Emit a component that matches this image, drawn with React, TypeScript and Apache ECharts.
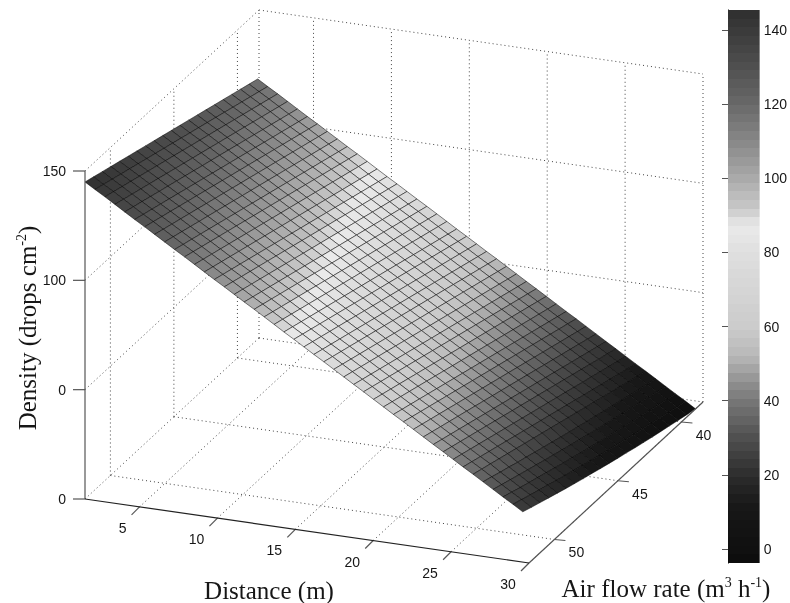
import React, { useEffect, useRef } from "react";
import * as echarts from "echarts";

// Mesh coordinates
const distances = [1.50,2.14,2.78,3.42,4.05,4.69,5.33,5.97,6.61,7.25,7.89,8.53,9.16,9.80,10.44,11.08,11.72,12.36,13.00,13.64,14.27,14.91,15.55,16.19,16.83,17.47,18.11,18.75,19.38,20.02,20.66,21.30,21.94,22.58,23.22,23.86,24.49,25.13,25.77,26.41,27.05,27.69,28.33,28.97,29.60];
const airFlows = [38.40,39.08,39.76,40.44,41.12,41.80,42.48,43.16,43.84,44.52,45.20,45.88,46.56,47.24,47.92,48.60,49.28,49.96,50.64,51.32,52.00];

// density[airIndex][distanceIndex], drops cm-2
const density = [
[119.0,116.2,113.5,110.7,107.9,105.1,102.4,99.6,96.8,94.0,91.3,88.5,85.7,82.9,80.2,77.4,74.6,71.9,69.1,66.3,63.5,60.8,58.0,55.2,52.5,49.7,46.9,44.1,41.4,38.6,35.8,33.0,30.3,27.5,24.7,21.9,19.2,16.4,13.6,10.9,8.1,5.3,2.5,-0.2,-3.0],
[120.3,117.5,114.8,112.0,109.2,106.4,103.7,100.9,98.1,95.3,92.6,89.8,87.0,84.2,81.5,78.7,75.9,73.2,70.4,67.6,64.8,62.1,59.3,56.5,53.8,51.0,48.2,45.4,42.7,39.9,37.1,34.3,31.6,28.8,26.0,23.2,20.5,17.7,14.9,12.2,9.3,6.4,3.6,0.9,-2.0],
[121.6,118.8,116.1,113.3,110.5,107.7,105.0,102.2,99.4,96.6,93.9,91.1,88.3,85.5,82.8,80.0,77.2,74.5,71.7,68.9,66.1,63.4,60.6,57.8,55.1,52.3,49.5,46.7,44.0,41.2,38.4,35.6,32.9,30.1,27.3,24.5,21.8,19.0,16.2,13.5,10.4,7.6,4.8,2.0,-0.9],
[122.9,120.1,117.4,114.6,111.8,109.0,106.3,103.5,100.7,97.9,95.2,92.4,89.6,86.8,84.1,81.3,78.5,75.8,73.0,70.2,67.4,64.7,61.9,59.1,56.4,53.6,50.8,48.0,45.3,42.5,39.7,36.9,34.2,31.4,28.6,25.8,23.1,20.3,17.5,14.8,11.6,8.8,5.9,3.1,0.2],
[124.2,121.4,118.7,115.9,113.1,110.3,107.6,104.8,102.0,99.2,96.5,93.7,90.9,88.1,85.4,82.6,79.8,77.1,74.3,71.5,68.7,66.0,63.2,60.4,57.7,54.9,52.1,49.3,46.6,43.8,41.0,38.2,35.5,32.7,29.9,27.1,24.4,21.6,18.8,16.1,12.9,10.0,7.1,4.3,1.3],
[125.5,122.7,120.0,117.2,114.4,111.6,108.9,106.1,103.3,100.5,97.8,95.0,92.2,89.4,86.7,83.9,81.1,78.4,75.6,72.8,70.0,67.3,64.5,61.7,59.0,56.2,53.4,50.6,47.9,45.1,42.3,39.5,36.8,34.0,31.2,28.4,25.7,22.9,20.1,17.4,14.1,11.2,8.3,5.4,2.4],
[126.8,124.0,121.3,118.5,115.7,112.9,110.2,107.4,104.6,101.8,99.1,96.3,93.5,90.7,88.0,85.2,82.4,79.7,76.9,74.1,71.3,68.6,65.8,63.0,60.3,57.5,54.7,51.9,49.2,46.4,43.6,40.8,38.1,35.3,32.5,29.7,27.0,24.2,21.4,18.7,15.3,12.4,9.5,6.6,3.6],
[128.1,125.3,122.6,119.8,117.0,114.2,111.5,108.7,105.9,103.1,100.4,97.6,94.8,92.0,89.3,86.5,83.7,81.0,78.2,75.4,72.6,69.9,67.1,64.3,61.6,58.8,56.0,53.2,50.5,47.7,44.9,42.1,39.4,36.6,33.8,31.0,28.3,25.5,22.7,20.0,16.6,13.6,10.7,7.8,4.8],
[129.4,126.6,123.9,121.1,118.3,115.5,112.8,110.0,107.2,104.4,101.7,98.9,96.1,93.3,90.6,87.8,85.0,82.3,79.5,76.7,73.9,71.2,68.4,65.6,62.9,60.1,57.3,54.5,51.8,49.0,46.2,43.4,40.7,37.9,35.1,32.3,29.6,26.8,24.0,21.3,17.8,14.9,12.0,9.1,6.1],
[130.7,127.9,125.2,122.4,119.6,116.8,114.1,111.3,108.5,105.7,103.0,100.2,97.4,94.6,91.9,89.1,86.3,83.6,80.8,78.0,75.2,72.5,69.7,66.9,64.2,61.4,58.6,55.8,53.1,50.3,47.5,44.7,42.0,39.2,36.4,33.6,30.9,28.1,25.3,22.6,19.1,16.2,13.2,10.3,7.3],
[132.0,129.2,126.5,123.7,120.9,118.1,115.4,112.6,109.8,107.0,104.3,101.5,98.7,95.9,93.2,90.4,87.6,84.9,82.1,79.3,76.5,73.8,71.0,68.2,65.5,62.7,59.9,57.1,54.4,51.6,48.8,46.0,43.3,40.5,37.7,34.9,32.2,29.4,26.6,23.9,20.4,17.5,14.5,11.6,8.6],
[133.3,130.5,127.8,125.0,122.2,119.4,116.7,113.9,111.1,108.3,105.6,102.8,100.0,97.2,94.5,91.7,88.9,86.2,83.4,80.6,77.8,75.1,72.3,69.5,66.8,64.0,61.2,58.4,55.7,52.9,50.1,47.3,44.6,41.8,39.0,36.2,33.5,30.7,27.9,25.2,21.7,18.8,15.8,12.9,9.9],
[134.6,131.8,129.1,126.3,123.5,120.7,118.0,115.2,112.4,109.6,106.9,104.1,101.3,98.5,95.8,93.0,90.2,87.5,84.7,81.9,79.1,76.4,73.6,70.8,68.1,65.3,62.5,59.7,57.0,54.2,51.4,48.6,45.9,43.1,40.3,37.5,34.8,32.0,29.2,26.5,23.0,20.1,17.2,14.3,11.3],
[135.9,133.1,130.4,127.6,124.8,122.0,119.3,116.5,113.7,110.9,108.2,105.4,102.6,99.8,97.1,94.3,91.5,88.8,86.0,83.2,80.4,77.7,74.9,72.1,69.4,66.6,63.8,61.0,58.3,55.5,52.7,49.9,47.2,44.4,41.6,38.8,36.1,33.3,30.5,27.8,24.4,21.5,18.5,15.6,12.6],
[137.2,134.4,131.7,128.9,126.1,123.3,120.6,117.8,115.0,112.2,109.5,106.7,103.9,101.1,98.4,95.6,92.8,90.1,87.3,84.5,81.7,79.0,76.2,73.4,70.7,67.9,65.1,62.3,59.6,56.8,54.0,51.2,48.5,45.7,42.9,40.1,37.4,34.6,31.8,29.1,25.7,22.8,19.9,17.0,14.0],
[138.5,135.7,133.0,130.2,127.4,124.6,121.9,119.1,116.3,113.5,110.8,108.0,105.2,102.4,99.7,96.9,94.1,91.4,88.6,85.8,83.0,80.3,77.5,74.7,72.0,69.2,66.4,63.6,60.9,58.1,55.3,52.5,49.8,47.0,44.2,41.4,38.7,35.9,33.1,30.4,27.1,24.2,21.3,18.4,15.4],
[139.8,137.0,134.3,131.5,128.7,125.9,123.2,120.4,117.6,114.8,112.1,109.3,106.5,103.7,101.0,98.2,95.4,92.7,89.9,87.1,84.3,81.6,78.8,76.0,73.3,70.5,67.7,64.9,62.2,59.4,56.6,53.8,51.1,48.3,45.5,42.7,40.0,37.2,34.4,31.7,28.4,25.6,22.7,19.9,16.9],
[141.1,138.3,135.6,132.8,130.0,127.2,124.5,121.7,118.9,116.1,113.4,110.6,107.8,105.0,102.3,99.5,96.7,94.0,91.2,88.4,85.6,82.9,80.1,77.3,74.6,71.8,69.0,66.2,63.5,60.7,57.9,55.1,52.4,49.6,46.8,44.0,41.3,38.5,35.7,33.0,29.9,27.0,24.1,21.3,18.4],
[142.4,139.6,136.9,134.1,131.3,128.5,125.8,123.0,120.2,117.4,114.7,111.9,109.1,106.3,103.6,100.8,98.0,95.3,92.5,89.7,86.9,84.2,81.4,78.6,75.9,73.1,70.3,67.5,64.8,62.0,59.2,56.4,53.7,50.9,48.1,45.3,42.6,39.8,37.0,34.3,31.2,28.4,25.5,22.8,19.9],
[143.7,140.9,138.2,135.4,132.6,129.8,127.1,124.3,121.5,118.7,116.0,113.2,110.4,107.6,104.9,102.1,99.3,96.6,93.8,91.0,88.2,85.5,82.7,79.9,77.2,74.4,71.6,68.8,66.1,63.3,60.5,57.7,55.0,52.2,49.4,46.6,43.9,41.1,38.3,35.6,32.7,29.8,27.0,24.3,21.4],
[145.0,142.2,139.5,136.7,133.9,131.1,128.4,125.6,122.8,120.0,117.3,114.5,111.7,108.9,106.2,103.4,100.6,97.9,95.1,92.3,89.5,86.8,84.0,81.2,78.5,75.7,72.9,70.1,67.4,64.6,61.8,59.0,56.3,53.5,50.7,47.9,45.2,42.4,39.6,36.9,34.1,31.3,28.5,25.8,23.0],
];

// Axes
const distanceRange = [1.5, 30];
const airRange = [52, 38.3];
const densityRange = [0, 150];
const distanceTicks = [5, 10, 15, 20, 25, 30];
const airTicks = [40, 45, 50];
const densityTicks = [0, 50, 100, 150];
const densityTickLabels = ["0", "0", "100", "150"];
const barTicks = [0, 20, 40, 60, 80, 100, 120, 140];
const barRange = [-3.8, 145.4];
const barLevels = 64;

// Grey level of the colour bar at a density value
const greyStops = [
  [-3.8, 12], [0, 16], [12, 24], [20, 46], [30, 80], [40, 120], [45, 144], [52, 184],
  [60, 204], [70, 213], [80, 223], [87, 234], [92, 200], [100, 170], [110, 136],
  [120, 104], [130, 80], [145.4, 46],
];

const W = 790, H = 603;
const origin = [85, 499];
const perDistance = [444 / 28.5, 64 / 28.5];
const perAir = [174 / 13.7, -161 / 13.7];
const perDensity = -328 / 150;

function project(d: number, a: number, z: number) {
  const dd = d - distanceRange[0];
  const aa = airRange[0] - a;
  return [
    origin[0] + dd * perDistance[0] + aa * perAir[0],
    origin[1] + dd * perDistance[1] + aa * perAir[1] + z * perDensity,
  ];
}

function greyAt(z: number) {
  let g = greyStops[greyStops.length - 1][1];
  for (let k = 0; k < greyStops.length - 1; k++) {
    const [z0, g0] = greyStops[k];
    const [z1, g1] = greyStops[k + 1];
    if (z <= z1) { g = g0 + ((Math.max(z, z0) - z0) / (z1 - z0)) * (g1 - g0); break; }
  }
  const v = Math.round(g);
  return `rgb(${v},${v},${v})`;
}

type Seg = { a: number[]; b: number[]; off?: number[] };

function wallSegments(): Seg[] {
  const [d0, d1] = distanceRange;
  const [a0, a1] = airRange;
  const [z0, z1] = densityRange;
  const out: Seg[] = [];
  distanceTicks.forEach((d) => {
    out.push({ a: [d, a0, z0], b: [d, a1, z0] });
    out.push({ a: [d, a1, z0], b: [d, a1, z1] });
  });
  airTicks.forEach((a) => {
    out.push({ a: [d0, a, z0], b: [d1, a, z0] });
    out.push({ a: [d0, a, z0], b: [d0, a, z1] });
  });
  out.push({ a: [d0, a1, z0], b: [d0, a1, z1] });
  densityTicks.forEach((z) => {
    out.push({ a: [d0, a1, z], b: [d1, a1, z] });
    out.push({ a: [d0, a0, z], b: [d0, a1, z] });
  });
  return out;
}

function lightAxisSegments(): Seg[] {
  const [d0, d1] = distanceRange;
  const [a0, a1] = airRange;
  const [z0, z1] = densityRange;
  const out: Seg[] = [
    { a: [d0, a0, z0], b: [d0, a0, z1] },
    { a: [d1, a0, z0], b: [d1, a1, z0] },
  ];
  densityTicks.forEach((z) => out.push({ a: [d0, a0, z], b: [d0, a0, z], off: [-12, 0] }));
  distanceTicks.forEach((d) => out.push({ a: [d, a0, z0], b: [d, a0, z0], off: [-8, 8] }));
  airTicks.forEach((a) => out.push({ a: [d1, a, z0], b: [d1, a, z0], off: [11, 1] }));
  return out;
}

function darkAxisSegments(): Seg[] {
  return [{ a: [distanceRange[0], airRange[0], 0], b: [distanceRange[1], airRange[0], 0] }];
}

type Lab = { text: string; at: number[]; off: number[]; align: string };
function tickLabels(): Lab[] {
  const [d0, d1] = distanceRange;
  const [a0] = airRange;
  const out: Lab[] = [];
  densityTicks.forEach((z, i) =>
    out.push({ text: densityTickLabels[i], at: [d0, a0, z], off: [-19, 0], align: "right" })
  );
  distanceTicks.forEach((d) =>
    out.push({ text: String(d), at: [d, a0, 0], off: [d < 10 ? -17 : -21, 21], align: "center" })
  );
  airTicks.forEach((a) =>
    out.push({ text: String(a), at: [d1, a, 0], off: [22, 13], align: "center" })
  );
  return out;
}

const serif = '"Liberation Serif", serif';
const sans = '"Liberation Sans", sans-serif';
const ink = "#161616";

export default function App() {
  const ref = useRef<HTMLDivElement | null>(null);
  useEffect(() => {
    if (!ref.current) return;
    const chart = echarts.init(ref.current, undefined, { renderer: "svg", width: W, height: H });

    const walls = wallSegments();
    const labels = tickLabels();
    const cells: number[][] = [];
    for (let j = 0; j < airFlows.length - 1; j++) {
      for (let i = 0; i < distances.length - 1; i++) {
        cells.push([i, j]);
      }
    }
    const bands: number[][] = [];
    const bandStep = (barRange[1] - barRange[0]) / barLevels;
    for (let k = 0; k < barLevels; k++) {
      bands.push([0, barRange[0] + k * bandStep, 1, barRange[0] + (k + 1) * bandStep]);
    }

    const segSeries = (segs: Seg[], style: any, name: string) => ({
      type: "custom",
      name,
      silent: true,
      clip: false,
      data: segs.map((_, i) => [i]),
      renderItem: (params: any, api: any) => {
        const s = segs[params.dataIndex];
        const p = project(s.a[0], s.a[1], s.a[2]);
        const q = project(s.b[0], s.b[1], s.b[2]);
        const P = api.coord(p);
        const Q = api.coord(s.off ? [q[0] + s.off[0], q[1] + s.off[1]] : q);
        return {
          type: "line",
          shape: { x1: P[0], y1: P[1], x2: Q[0], y2: Q[1] },
          style,
        };
      },
    });

    const sup = { s: { fontSize: 14, fontFamily: serif, fill: ink, verticalAlign: "top" } };

    chart.setOption({
      animation: false,
      backgroundColor: "#ffffff",
      grid: [
        { left: 0, top: 0, width: W, height: H },
        { left: 728, top: 10, width: 33, height: 553 },
      ],
      xAxis: [
        { type: "value", gridIndex: 0, min: 0, max: W, show: false },
        { type: "value", gridIndex: 1, min: 0, max: 1, show: false },
      ],
      yAxis: [
        { type: "value", gridIndex: 0, min: 0, max: H, inverse: true, show: false },
        {
          type: "value",
          gridIndex: 1,
          position: "right",
          min: barRange[0],
          max: barRange[1],
          splitLine: { show: false },
          axisLine: { show: true, lineStyle: { color: "#111", width: 1 } },
          axisTick: { show: true, inside: true, length: 6, customValues: barTicks, lineStyle: { color: "#555" } },
          axisLabel: {
            show: true,
            customValues: barTicks,
            margin: 4,
            fontSize: 14,
            fontFamily: sans,
            color: ink,
            showMinLabel: true,
            showMaxLabel: true,
          },
        },
        {
          type: "value",
          gridIndex: 1,
          position: "left",
          min: barRange[0],
          max: barRange[1],
          splitLine: { show: false },
          axisLine: { show: true, lineStyle: { color: "#777", width: 1 } },
          axisTick: { show: true, inside: true, length: 6, customValues: barTicks, lineStyle: { color: "#555" } },
          axisLabel: { show: false },
        },
      ],
      graphic: [
        {
          type: "text",
          x: 27,
          y: 328,
          rotation: Math.PI / 2,
          style: {
            text: "Density (drops cm{s|-2})",
            rich: sup,
            fontSize: 25,
            fontFamily: serif,
            fill: ink,
            align: "center",
            verticalAlign: "middle",
          },
        },
        {
          type: "text",
          x: 269,
          y: 590,
          style: {
            text: "Distance (m)",
            fontSize: 25,
            fontFamily: serif,
            fill: ink,
            align: "center",
            verticalAlign: "middle",
          },
        },
        {
          type: "text",
          x: 666,
          y: 588,
          style: {
            text: "Air flow rate (m{s|3} h{s|-1})",
            rich: sup,
            fontSize: 25,
            fontFamily: serif,
            fill: ink,
            align: "center",
            verticalAlign: "middle",
          },
        },
      ],
      series: [
        segSeries(walls, { stroke: "#444", lineWidth: 1, lineDash: [1, 3] }, "walls"),
        {
          type: "custom",
          name: "surface",
          silent: true,
          clip: false,
          data: cells,
          renderItem: (params: any, api: any) => {
            const [i, j] = cells[params.dataIndex];
            const corners = [
              [i, j],
              [i + 1, j],
              [i + 1, j + 1],
              [i, j + 1],
            ];
            const pts = corners.map(([m, n]) =>
              api.coord(project(distances[m], airFlows[n], density[n][m]))
            );
            const mean =
              (density[j][i] + density[j][i + 1] + density[j + 1][i + 1] + density[j + 1][i]) / 4;
            return {
              type: "polygon",
              shape: { points: pts },
              style: { fill: greyAt(mean), stroke: "rgba(0,0,0,0.5)", lineWidth: 1 },
            };
          },
        },
        segSeries(lightAxisSegments(), { stroke: "#555", lineWidth: 1.2 }, "axes"),
        segSeries(darkAxisSegments(), { stroke: "#222", lineWidth: 1.2 }, "distance axis"),
        {
          type: "custom",
          name: "tick labels",
          silent: true,
          clip: false,
          data: labels.map((_, i) => [i]),
          renderItem: (params: any, api: any) => {
            const l = labels[params.dataIndex];
            const p = project(l.at[0], l.at[1], l.at[2]);
            const P = api.coord([p[0] + l.off[0], p[1] + l.off[1]]);
            return {
              type: "text",
              x: P[0],
              y: P[1],
              style: {
                text: l.text,
                fontSize: 14,
                fontFamily: sans,
                fill: ink,
                align: l.align,
                verticalAlign: "middle",
              },
            };
          },
        },
        {
          type: "custom",
          name: "colour bar",
          silent: true,
          xAxisIndex: 1,
          yAxisIndex: 1,
          data: bands,
          renderItem: (params: any, api: any) => {
            const b = bands[params.dataIndex];
            const p0 = api.coord([b[0], b[3]]);
            const p1 = api.coord([b[2], b[1]]);
            const top = Math.round(p0[1]);
            const bottom = Math.round(p1[1]);
            return {
              type: "rect",
              z2: params.dataIndex,
              shape: { x: p0[0], y: top, width: p1[0] - p0[0], height: bottom - top },
              style: { fill: greyAt((b[1] + b[3]) / 2) },
            };
          },
        },
      ],
    });
    return () => chart.dispose();
  }, []);
  return (
    <div
      ref={ref}
      style={{
        position: "fixed",
        left: 0,
        top: 0,
        width: W,
        height: H,
        background: "#fff",
        filter: "blur(0.5px)",
      }}
    />
  );
}
